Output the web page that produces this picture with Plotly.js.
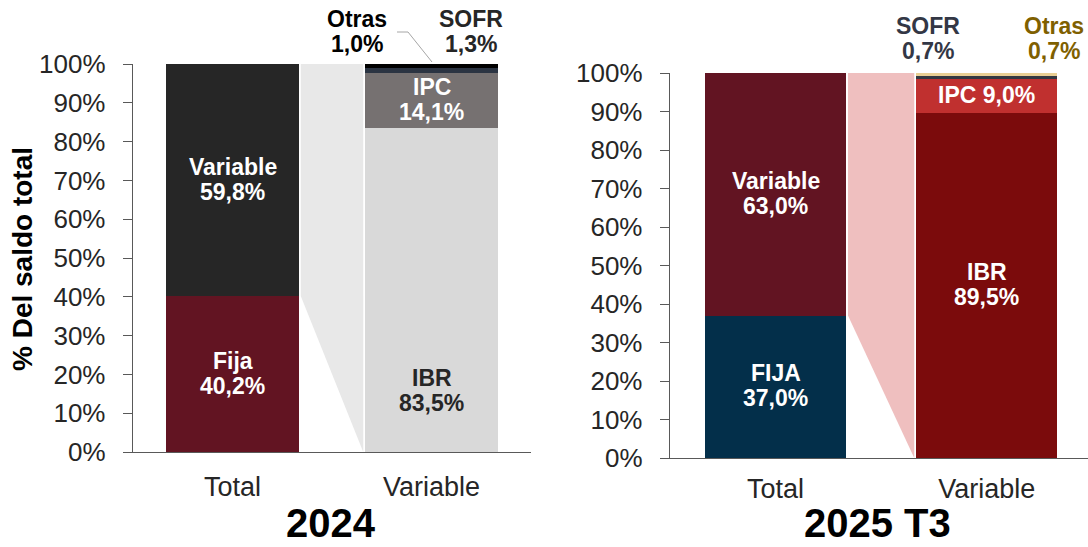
<!DOCTYPE html>
<html>
<head>
<meta charset="utf-8">
<script src="https://cdn.plot.ly/plotly-3.0.1.min.js"></script>
<style>html,body{margin:0;padding:0;background:#fff;}#chart{width:1088px;height:547px;}</style>
</head>
<body>
<div id="chart"></div>
<script>
// ---------- data ----------
const categories = ['Total', 'Variable'];
const panelTitles = ['2024', '2025 T3'];

const total24Names = ['Fija', 'Variable'];
const total24Values = [40.2, 59.8];
const var24Names = ['IBR', 'IPC', 'SOFR', 'Otras'];
const var24Values = [83.5, 14.1, 1.3, 1.0];

const total25Names = ['FIJA', 'Variable'];
const total25Values = [37.0, 63.0];
const var25Names = ['IBR', 'IPC', 'SOFR', 'Otras'];
const var25Values = [89.5, 9.0, 0.7, 0.7];

const yTickVals = [0, 10, 20, 30, 40, 50, 60, 70, 80, 90, 100];
const yTickText = ['0%', '10%', '20%', '30%', '40%', '50%', '60%', '70%', '80%', '90%', '100%'];
const yTitle = '% Del saldo total';

// ---------- styles ----------
const FONT = 'Liberation Sans, Arial, sans-serif';
const colTotal24 = ['#621422', '#262626'];
const colVar24 = ['#d9d9d9', '#767171', '#2b3442', '#000000'];
const colTotal25 = ['#032f4a', '#621422'];
const colVar25 = ['#7b0b0c', '#c0302f', '#333842', '#e9cf94'];
const connector24 = '#e8e8e8';
const connector25 = '#efbfbf';
const W = 1088, H = 547;
const BARW = 0.666;
const LINE_GAP = 12.5;

function fmt(v) { return v.toFixed(1).replace('.', ',') + '%'; }
function px(x) { return x / W; }
function py(y) { return 1 - y / H; }

const traces = [];
function addStack(names, values, colors, cat, xa, ya) {
  names.forEach((n, i) => {
    traces.push({
      type: 'bar', x: [cat], y: [values[i]], name: n,
      marker: { color: colors[i], line: { width: 0 } },
      xaxis: xa, yaxis: ya, hoverinfo: 'skip', showlegend: false
    });
  });
}
addStack(total24Names, total24Values, colTotal24, categories[0], 'x', 'y');
addStack(var24Names, var24Values, colVar24, categories[1], 'x', 'y');
addStack(total25Names, total25Values, colTotal25, categories[0], 'x2', 'y2');
addStack(var25Names, var25Values, colVar25, categories[1], 'x2', 'y2');

function cum(values, i) { let s = 0; for (let k = 0; k < i; k++) s += values[k]; return s; }
function mid(values, i) { return cum(values, i) + values[i] / 2; }

const LBL = { family: FONT, size: 23, color: '#ffffff', weight: 'bold' };
const annotations = [];
function line(xref, yref, x, y, text, color, shift) {
  annotations.push({ xref, yref, x, y, text, showarrow: false, xanchor: 'center', yanchor: 'middle',
    yshift: shift || 0, font: Object.assign({}, LBL, { color: color || '#ffffff' }) });
}
function lbl2(xref, yref, x, y, t1, t2, color) {
  line(xref, yref, x, y, t1, color, LINE_GAP + 1);
  line(xref, yref, x, y, t2, color, -LINE_GAP + 1);
}
// 2024 labels
lbl2('x', 'y', 0, mid(total24Values, 0), total24Names[0], fmt(total24Values[0]));
lbl2('x', 'y', 0, mid(total24Values, 1), total24Names[1], fmt(total24Values[1]));
lbl2('x', 'y', 1, mid(var24Values, 1), var24Names[1], fmt(var24Values[1]));
lbl2('x', 'y', 1, 15.7, var24Names[0], fmt(var24Values[0]), '#262626');
// 2025 labels
lbl2('x2', 'y2', 0, mid(total25Values, 0), total25Names[0], fmt(total25Values[0]));
lbl2('x2', 'y2', 0, mid(total25Values, 1), total25Names[1], fmt(total25Values[1]));
lbl2('x2', 'y2', 1, mid(var25Values, 0), var25Names[0], fmt(var25Values[0]));
line('x2', 'y2', 1, mid(var25Values, 1), var25Names[1] + ' ' + fmt(var25Values[1]), '#ffffff', 1);
// small segments above bars
lbl2('x', 'paper', 0.625, py(33), var24Names[3], fmt(var24Values[3]), '#000000');
lbl2('x', 'paper', 1.2, py(33), var24Names[2], fmt(var24Values[2]), '#262626');
lbl2('x2', 'paper', 0.724, py(39), var25Names[2], fmt(var25Values[2]), '#333745');
lbl2('x2', 'paper', 1.319, py(39), var25Names[3], fmt(var25Values[3]), '#7f6000');

// panel titles
annotations.push({ xref: 'paper', yref: 'paper', x: px(331), y: 0, text: panelTitles[0], showarrow: false,
  xanchor: 'center', yanchor: 'bottom', font: { family: FONT, size: 40, color: '#000', weight: 'bold' } });
annotations.push({ xref: 'paper', yref: 'paper', x: px(877), y: 0, text: panelTitles[1], showarrow: false,
  xanchor: 'center', yanchor: 'bottom', font: { family: FONT, size: 40, color: '#000', weight: 'bold' } });
// y title
annotations.push({ xref: 'paper', yref: 'paper', x: px(22), y: py(259), text: yTitle, textangle: -90, showarrow: false,
  xanchor: 'center', yanchor: 'middle', font: { family: FONT, size: 28, color: '#000', weight: 'bold' } });

// connectors
const e1 = 0 + BARW / 2, e2 = 1 - BARW / 2;
const shapes = [
  { type: 'path', xref: 'x', yref: 'y', layer: 'below', line: { width: 0 }, fillcolor: connector24,
    path: `M ${e1 + 0.01},100 L ${e1 + 0.01},${total24Values[0]} L ${e2 - 0.01},0 L ${e2 - 0.01},100 Z` },
  { type: 'path', xref: 'x2', yref: 'y2', layer: 'below', line: { width: 0 }, fillcolor: connector25,
    path: `M ${e1 + 0.01},100 L ${e1 + 0.01},${total25Values[0]} L ${e2 - 0.01},0 L ${e2 - 0.01},100 Z` },
  { type: 'path', xref: 'paper', yref: 'paper', line: { color: '#a6a6a6', width: 1 },
    path: `M ${px(397)},${py(32)} L ${px(408)},${py(32)} L ${px(432)},${py(62)}` }
];

const yAx = {
  range: [0, 100], tickvals: yTickVals, ticktext: yTickText, showgrid: false, zeroline: false,
  showline: true, linecolor: '#595959', linewidth: 1.3, ticks: 'outside', ticklen: 9, tickcolor: '#595959',
  ticklabelstandoff: 12,
  tickfont: { family: FONT, size: 26, color: '#262626' }, fixedrange: true
};
const xAx = {
  type: 'category', categoryorder: 'array', categoryarray: categories, showgrid: false, zeroline: false,
  showline: true, linecolor: '#595959', linewidth: 1.3, ticks: '',
  tickfont: { family: FONT, size: 27, color: '#262626' }, fixedrange: true
};

const layout = {
  width: W, height: H, margin: { l: 0, r: 0, t: 0, b: 0 },
  paper_bgcolor: '#ffffff', plot_bgcolor: 'rgba(0,0,0,0)',
  barmode: 'stack', bargap: 1 - BARW, showlegend: false,
  xaxis: Object.assign({}, xAx, { domain: [px(133), px(531)], range: [-0.5, 1.5], anchor: 'y', ticklabelstandoff: 10 }),
  yaxis: Object.assign({}, yAx, { domain: [1 - 452 / H, 1 - 64 / H], anchor: 'x' }),
  xaxis2: Object.assign({}, xAx, { domain: [px(670), 1], range: [-0.5, 1.48], anchor: 'y2', ticklabelstandoff: 6 }),
  yaxis2: Object.assign({}, yAx, { domain: [1 - 458 / H, 1 - 73 / H], anchor: 'x2' }),
  annotations, shapes
};

Plotly.newPlot('chart', traces, layout, { displayModeBar: false, staticPlot: true });
</script>
</body>
</html>
